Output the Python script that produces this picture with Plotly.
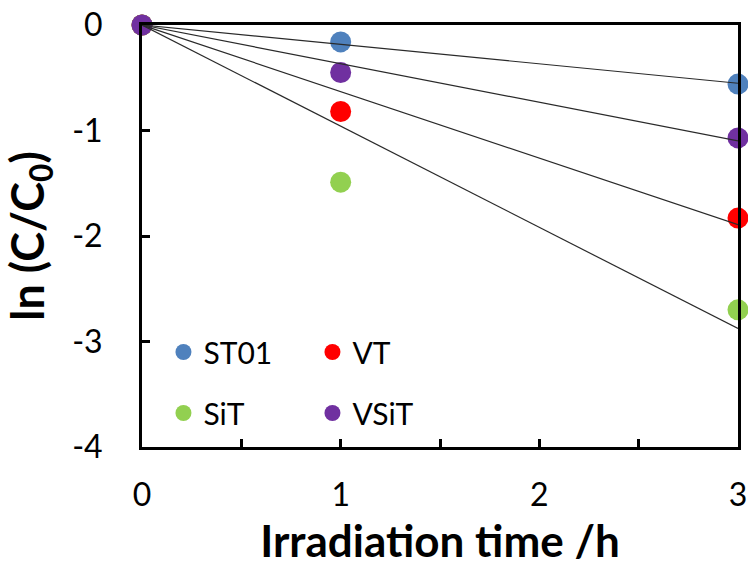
import numpy as np
import plotly.graph_objects as go

time_h = [0, 1, 3]
series_names = ["ST01", "VT", "SiT", "VSiT"]
st01 = [0, -0.16, -0.56]
vt = [0, -0.82, -1.83]
sit = [0, -1.49, -2.70]
vsit = [0, -0.45, -1.07]
colors = ["#4F81BD", "#FF0000", "#92D050", "#7030A0"]
x_tick_labels = ["0", "1", "2", "3"]
y_tick_labels = ["-4", "-3", "-2", "-1", "0"]

series = [st01, vt, sit, vsit]
legend_of = ["legend", "legend", "legend2", "legend2"]

FONT = "Lato"
fig = go.Figure()

t = np.array(time_h, dtype=float)
# markers
for name, vals, col, lg in zip(series_names, series, colors, legend_of):
    fig.add_trace(go.Scatter(x=time_h, y=vals, mode="markers", name=name,
                             marker=dict(color=col, size=21),
                             cliponaxis=False, legend=lg))
# trend lines (least-squares fit through origin), drawn above markers
for vals in series:
    v = np.array(vals, dtype=float)
    k = float((t * v).sum() / (t * t).sum())
    fig.add_trace(go.Scatter(x=[t.min(), t.max()], y=[k * t.min(), k * t.max()],
                             mode="lines", line=dict(color="#2a2a2a", width=1.2),
                             showlegend=False, hoverinfo="skip"))

axis_common = dict(showline=True, linecolor="black", linewidth=3, mirror=True,
                   ticks="inside", ticklen=8, tickwidth=3, tickcolor="black",
                   showgrid=False, zeroline=False, automargin=False,
                   tickfont=dict(family=FONT, size=32, color="black"))

fig.update_xaxes(range=[0, 3], tickvals=[0, 1, 2, 3], ticktext=x_tick_labels,
                 minor=dict(ticks="inside", dtick=0.5, ticklen=8, tickwidth=3, tickcolor="black"),
                 ticklabelstandoff=18,
                 title=dict(text="Irradiation time /h", standoff=14,
                            font=dict(family=FONT, size=44, color="black", weight="bold")),
                 **axis_common)
fig.update_yaxes(range=[-4, 0], tickvals=[-4, -3, -2, -1, 0], ticktext=y_tick_labels,
                 ticklabelstandoff=30,
                 title=dict(text="ln (C/C<sub>0</sub>)", standoff=18,
                            font=dict(family=FONT, size=45, color="black", weight="bold")),
                 **axis_common)

legend_common = dict(orientation="h", xref="paper", yref="paper",
                     xanchor="left", yanchor="middle", bgcolor="rgba(0,0,0,0)",
                     font=dict(family=FONT, size=30, color="black"),
                     entrywidth=104, entrywidthmode="pixels", itemsizing="trace",
                     tracegroupgap=0)

fig.update_layout(
    width=748, height=567,
    margin=dict(l=142, r=10, t=25, b=120, autoexpand=False),
    plot_bgcolor="white", paper_bgcolor="white",
    legend=dict(x=0.036, y=(447 - 352) / 422, **legend_common),
    legend2=dict(x=0.036, y=(447 - 413) / 422, **legend_common),
)

fig.write_html("out.html")
